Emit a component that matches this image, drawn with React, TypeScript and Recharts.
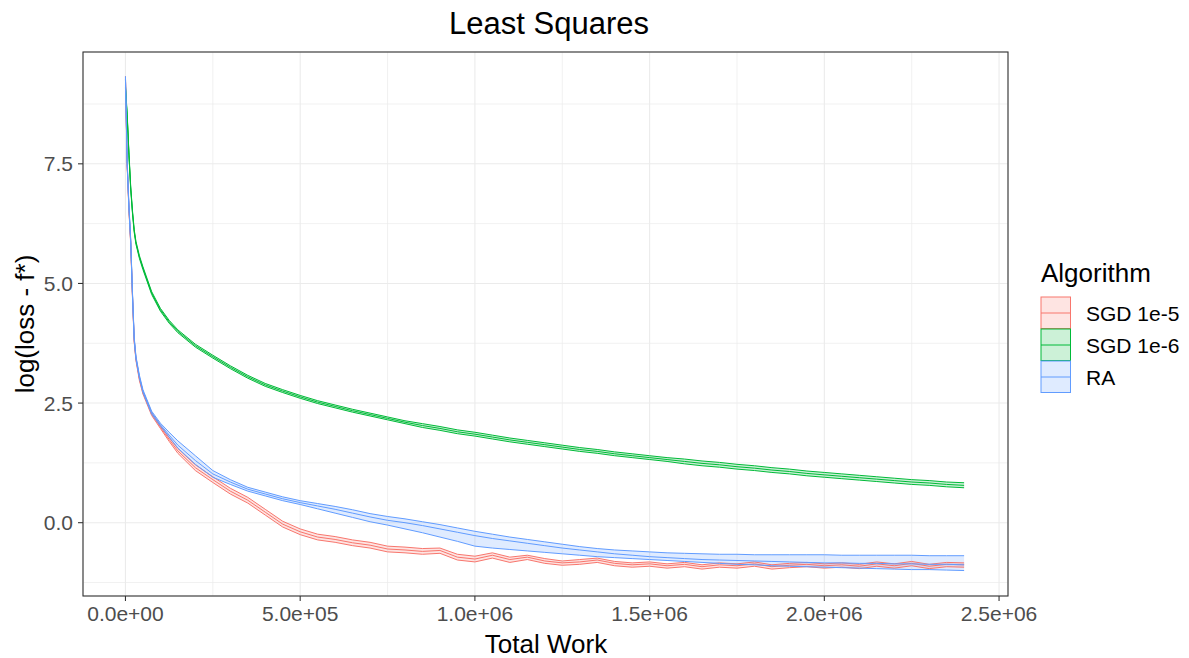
import React from 'react';
import { ComposedChart, Area, Line, XAxis, YAxis, CartesianGrid } from 'recharts';

// total work (x) shared by all three runs
const work = [
  0, 5e3, 1e4, 1.5e4, 2e4, 2.5e4, 3e4, 4e4, 5e4, 7.5e4, 1e5, 1.25e5, 1.5e5, 2e5, 2.5e5, 3e5, 3.5e5, 4e5, 4.5e5,
  5e5, 5.5e5, 6e5, 6.5e5, 7e5, 7.5e5, 8e5, 8.5e5, 9e5, 9.5e5, 1e6, 1.05e6, 1.1e6, 1.15e6, 1.2e6, 1.25e6, 1.3e6,
  1.35e6, 1.4e6, 1.45e6, 1.5e6, 1.55e6, 1.6e6, 1.65e6, 1.7e6, 1.75e6, 1.8e6, 1.85e6, 1.9e6, 1.95e6, 2e6, 2.05e6,
  2.1e6, 2.15e6, 2.2e6, 2.25e6, 2.3e6, 2.35e6, 2.4e6,
];

// SGD 1e-5
const sgd5Mid = [
  9.3, 7.45, 6.55, 5.85, 4.75, 3.8, 3.42, 3.0, 2.72, 2.27, 2.0, 1.74, 1.5, 1.15, 0.9, 0.66, 0.47, 0.22, -0.03,
  -0.19, -0.3, -0.35, -0.42, -0.47, -0.55, -0.57, -0.6, -0.58, -0.72, -0.76, -0.68, -0.77, -0.72, -0.8, -0.84, -0.82,
  -0.78, -0.85, -0.88, -0.86, -0.9, -0.87, -0.92, -0.88, -0.9, -0.86, -0.92, -0.89, -0.87, -0.9, -0.88,
  -0.91, -0.86, -0.9, -0.85, -0.91, -0.87, -0.88,
];
const sgd5Hi = [
  9.33, 7.48, 6.58, 5.88, 4.78, 3.83, 3.45, 3.03, 2.75, 2.3, 2.03, 1.78, 1.55, 1.21, 0.96, 0.72, 0.53, 0.28, 0.03,
  -0.13, -0.24, -0.29, -0.36, -0.41, -0.49, -0.51, -0.54, -0.53, -0.66, -0.7, -0.63, -0.72, -0.68, -0.75, -0.8, -0.77,
  -0.74, -0.81, -0.84, -0.82, -0.86, -0.83, -0.88, -0.84, -0.86, -0.82, -0.88, -0.85, -0.83, -0.86, -0.84,
  -0.87, -0.82, -0.86, -0.81, -0.87, -0.83, -0.84,
];
const sgd5Lo = [
  9.27, 7.42, 6.52, 5.82, 4.72, 3.77, 3.39, 2.97, 2.69, 2.24, 1.97, 1.7, 1.45, 1.09, 0.84, 0.6, 0.41, 0.16, -0.09,
  -0.25, -0.36, -0.41, -0.48, -0.53, -0.61, -0.63, -0.66, -0.64, -0.78, -0.82, -0.74, -0.83, -0.77, -0.85, -0.89, -0.87,
  -0.83, -0.9, -0.93, -0.91, -0.95, -0.92, -0.97, -0.93, -0.95, -0.91, -0.97, -0.94, -0.92, -0.95, -0.93,
  -0.96, -0.91, -0.95, -0.9, -0.96, -0.92, -0.93,
];

// SGD 1e-6
const sgd6Mid = [
  9.1, 8.5, 7.7, 7.0, 6.5, 6.1, 5.85, 5.55, 5.32, 4.8, 4.45, 4.2, 4.0, 3.7, 3.47, 3.25, 3.05, 2.88, 2.75,
  2.63, 2.52, 2.43, 2.34, 2.26, 2.18, 2.1, 2.03, 1.97, 1.9, 1.85, 1.79, 1.73, 1.68, 1.63, 1.58, 1.53,
  1.49, 1.44, 1.4, 1.36, 1.32, 1.28, 1.24, 1.21, 1.17, 1.14, 1.1, 1.07, 1.03, 1.0, 0.97,
  0.94, 0.91, 0.88, 0.85, 0.83, 0.8, 0.78,
];
const sgd6Hi = [
  9.13, 8.53, 7.73, 7.03, 6.53, 6.13, 5.88, 5.58, 5.35, 4.83, 4.48, 4.23, 4.03, 3.73, 3.5, 3.28, 3.08, 2.91, 2.78,
  2.66, 2.55, 2.46, 2.37, 2.29, 2.21, 2.13, 2.07, 2.01, 1.94, 1.89, 1.83, 1.77, 1.72, 1.67, 1.62, 1.57,
  1.53, 1.48, 1.44, 1.4, 1.36, 1.33, 1.29, 1.26, 1.22, 1.19, 1.15, 1.12, 1.08, 1.05, 1.02,
  0.99, 0.96, 0.93, 0.9, 0.88, 0.85, 0.835,
];
const sgd6Lo = [
  9.07, 8.47, 7.67, 6.97, 6.47, 6.07, 5.82, 5.52, 5.29, 4.77, 4.42, 4.17, 3.97, 3.67, 3.44, 3.22, 3.02, 2.85, 2.72,
  2.6, 2.49, 2.4, 2.31, 2.23, 2.15, 2.07, 1.99, 1.93, 1.86, 1.81, 1.75, 1.69, 1.64, 1.59, 1.54, 1.49,
  1.45, 1.4, 1.36, 1.32, 1.28, 1.23, 1.19, 1.16, 1.12, 1.09, 1.05, 1.02, 0.98, 0.95, 0.92,
  0.89, 0.86, 0.83, 0.8, 0.78, 0.75, 0.73,
];

// RA
const raMid = [
  9.3, 7.5, 6.6, 5.9, 4.8, 3.85, 3.45, 3.05, 2.75, 2.3, 2.05, 1.83, 1.62, 1.3, 1.02, 0.85, 0.7, 0.6, 0.5,
  0.42, 0.35, 0.28, 0.2, 0.12, 0.05, 0.0, -0.06, -0.13, -0.2, -0.27, -0.33, -0.38, -0.43, -0.48, -0.53, -0.57,
  -0.61, -0.65, -0.68, -0.71, -0.73, -0.75, -0.77, -0.78, -0.79, -0.8, -0.81, -0.82, -0.83, -0.84, -0.84,
  -0.85, -0.85, -0.86, -0.86, -0.87, -0.87, -0.88,
];
const raHi = [
  9.33, 7.53, 6.63, 5.93, 4.83, 3.88, 3.48, 3.08, 2.78, 2.33, 2.08, 1.89, 1.71, 1.4, 1.09, 0.9, 0.74, 0.64, 0.54,
  0.46, 0.4, 0.34, 0.27, 0.19, 0.13, 0.08, 0.02, -0.04, -0.11, -0.18, -0.24, -0.3, -0.35, -0.4, -0.45, -0.5,
  -0.54, -0.57, -0.59, -0.61, -0.63, -0.64, -0.65, -0.66, -0.66, -0.67, -0.67, -0.67, -0.67, -0.67, -0.68,
  -0.68, -0.68, -0.68, -0.68, -0.69, -0.69, -0.69,
];
const raLo = [
  9.27, 7.47, 6.57, 5.87, 4.77, 3.82, 3.42, 3.02, 2.72, 2.27, 2.02, 1.79, 1.56, 1.22, 0.95, 0.8, 0.66, 0.56, 0.46,
  0.38, 0.29, 0.2, 0.11, 0.02, -0.05, -0.13, -0.21, -0.3, -0.39, -0.49, -0.53, -0.56, -0.59, -0.62, -0.65, -0.68,
  -0.71, -0.73, -0.75, -0.77, -0.79, -0.81, -0.83, -0.85, -0.87, -0.88, -0.9, -0.91, -0.92, -0.93, -0.94,
  -0.95, -0.96, -0.97, -0.98, -0.98, -0.99, -1.0,
];

const xTicks = [0, 5e5, 1e6, 1.5e6, 2e6, 2.5e6];
const xMinor = [2.5e5, 7.5e5, 1.25e6, 1.75e6, 2.25e6];
const yTicks = [0, 2.5, 5, 7.5];
const yMinor = [-1.25, 1.25, 3.75, 6.25, 8.75];

const series = [
  { key: 'sgd5', name: 'SGD 1e-5', color: '#F8766D', mid: sgd5Mid, lo: sgd5Lo, hi: sgd5Hi },
  { key: 'sgd6', name: 'SGD 1e-6', color: '#00BA38', mid: sgd6Mid, lo: sgd6Lo, hi: sgd6Hi },
  { key: 'ra', name: 'RA', color: '#619CFF', mid: raMid, lo: raLo, hi: raHi },
];

const rows = work.map((w, i) => {
  const row: any = { work: w };
  series.forEach((s) => {
    row[s.key + 'Band'] = [s.lo[i], s.hi[i]];
    row[s.key + 'Lo'] = s.lo[i];
    row[s.key + 'Mid'] = s.mid[i];
    row[s.key + 'Hi'] = s.hi[i];
  });
  return row;
});

const FONT = '"Liberation Sans", Arial, sans-serif';

const sci = (v: number) => {
  const [m, e] = v.toExponential(1).split('e');
  return `${m}e${e[0]}${e.slice(1).padStart(2, '0')}`;
};

export default function App() {
  const marks = series.flatMap((s) => [
    <Area
      key={s.key + 'Band'}
      dataKey={s.key + 'Band'}
      type="linear"
      stroke="none"
      fill={s.color}
      fillOpacity={0.2}
      dot={false}
      activeDot={false}
      isAnimationActive={false}
    />,
    ...['Lo', 'Mid', 'Hi'].map((part) => (
      <Line
        key={s.key + part}
        dataKey={s.key + part}
        type="linear"
        stroke={s.color}
        strokeWidth={1}
        dot={false}
        activeDot={false}
        isAnimationActive={false}
      />
    )),
  ]);

  return (
    <div style={{ position: 'absolute', left: 0, top: 0, width: 1189, height: 658, background: '#fff' }}>
      <ComposedChart width={1189} height={658} data={rows} margin={{ top: 52, right: 181, bottom: 0, left: 0 }}>
        <CartesianGrid stroke="#EBEBEB" strokeWidth={0.7} horizontalValues={yMinor} verticalValues={xMinor} />
        <CartesianGrid stroke="#EBEBEB" strokeWidth={1.1} />
        <XAxis
          dataKey="work"
          type="number"
          domain={[-121500, 2525600]}
          ticks={xTicks}
          allowDataOverflow
          tickFormatter={sci}
          height={62}
          axisLine={false}
          tickSize={5}
          tickMargin={5}
          tickLine={{ stroke: '#333333', strokeWidth: 1.07 }}
          tick={{ fill: '#4D4D4D', fontSize: 21, fontFamily: FONT }}
        />
        <YAxis
          type="number"
          domain={[-1.532, 9.837]}
          ticks={yTicks}
          allowDataOverflow
          tickFormatter={(v: number) => v.toFixed(1)}
          width={83}
          axisLine={false}
          tickSize={5}
          tickMargin={5}
          tickLine={{ stroke: '#333333', strokeWidth: 1.07 }}
          tick={{ fill: '#4D4D4D', fontSize: 21, fontFamily: FONT }}
        />
        {marks}
      </ComposedChart>
      <svg
        width={1189}
        height={658}
        style={{ position: 'absolute', left: 0, top: 0, pointerEvents: 'none' }}
        fontFamily={FONT}
      >
        <rect x={83} y={52} width={925} height={544} fill="none" stroke="#333333" strokeWidth={1.1} />
        <text x={549} y={34} textAnchor="middle" fontSize={31} fill="#000">
          Least Squares
        </text>
        <text x={546} y={653} textAnchor="middle" fontSize={26} fill="#000">
          Total Work
        </text>
        <text x={34} y={324} textAnchor="middle" fontSize={26} fill="#000" transform="rotate(-90 34 324)">
          log(loss - f*)
        </text>
        <text x={1041} y={282} fontSize={26} fill="#000">
          Algorithm
        </text>
        {series.map((s, i) => (
          <g key={s.key}>
            <rect
              x={1041}
              y={297 + i * 32}
              width={29.5}
              height={31.5}
              fill={s.color}
              fillOpacity={0.2}
              stroke={s.color}
              strokeWidth={1}
            />
            <line x1={1041} x2={1070.5} y1={313 + i * 32} y2={313 + i * 32} stroke={s.color} strokeWidth={1} />
            <text x={1086} y={321 + i * 32} fontSize={21} fill="#000">
              {s.name}
            </text>
          </g>
        ))}
      </svg>
    </div>
  );
}
